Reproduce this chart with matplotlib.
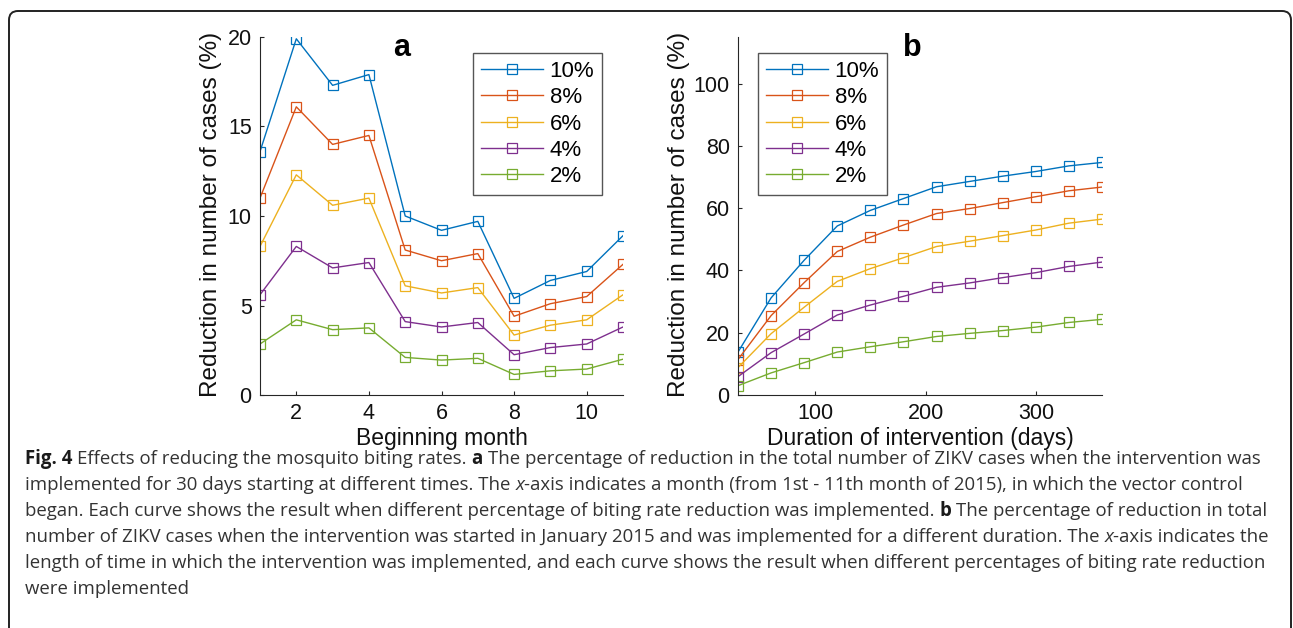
import matplotlib
matplotlib.use('Agg')
import matplotlib.pyplot as plt
from matplotlib.patches import FancyBboxPatch
from matplotlib.transforms import IdentityTransform

plt.rcParams['font.family'] = ['Liberation Sans', 'DejaVu Sans']

# data
months = [1, 2, 3, 4, 5, 6, 7, 8, 9, 10, 11]
days = [30, 60, 90, 120, 150, 180, 210, 240, 270, 300, 330, 360]
labels = ['10%', '8%', '6%', '4%', '2%']
colors = ['#0072BD', '#D95319', '#EDB120', '#7E2F8E', '#77AC30']

month_10 = [13.6, 19.9, 17.3, 17.9, 10.0, 9.2, 9.7, 5.4, 6.4, 6.9, 8.9]
month_8 = [11.0, 16.1, 14.0, 14.5, 8.1, 7.5, 7.9, 4.4, 5.1, 5.5, 7.3]
month_6 = [8.3, 12.3, 10.6, 11.0, 6.1, 5.7, 6.0, 3.35, 3.9, 4.2, 5.6]
month_4 = [5.6, 8.3, 7.1, 7.4, 4.1, 3.8, 4.05, 2.25, 2.65, 2.85, 3.8]
month_2 = [2.85, 4.2, 3.65, 3.75, 2.1, 1.95, 2.05, 1.15, 1.35, 1.45, 2.0]

dur_10 = [13.8, 31.2, 43.3, 54.3, 59.3, 63.1, 66.9, 68.6, 70.3, 71.8, 73.6, 74.7]
dur_8 = [11.4, 25.5, 36.1, 46.1, 50.7, 54.6, 58.3, 59.9, 61.8, 63.7, 65.6, 66.8]
dur_6 = [8.8, 19.7, 28.2, 36.5, 40.6, 44.1, 47.7, 49.4, 51.2, 53.0, 55.2, 56.5]
dur_4 = [5.9, 13.6, 19.6, 25.7, 28.9, 31.7, 34.6, 36.0, 37.7, 39.3, 41.3, 42.7]
dur_2 = [3.0, 7.1, 10.4, 13.8, 15.5, 17.1, 18.8, 19.8, 20.7, 21.8, 23.3, 24.3]

month_series = [month_10, month_8, month_6, month_4, month_2]
dur_series = [dur_10, dur_8, dur_6, dur_4, dur_2]

W, H = 1293, 628
fig = plt.figure(figsize=(W / 100, H / 100), dpi=100)

axc = '#262626'


def style_axes(ax):
    for s in ['top', 'right']:
        ax.spines[s].set_visible(False)
    for s in ['left', 'bottom']:
        ax.spines[s].set_color(axc)
        ax.spines[s].set_linewidth(0.8)
    ax.tick_params(direction='in', length=3, width=0.8, colors=axc,
                   labelsize=15.5, pad=6)
    for lab in ax.get_xticklabels() + ax.get_yticklabels():
        lab.set_color('#111111')


def panel(rect, x, series, xlim, ylim, xticks, yticks, xlabel, letter,
          letter_x, ylab_x, leg_x):
    ax = fig.add_axes(rect)
    for ys, lab, c in zip(series, labels, colors):
        ax.plot(x, ys, color=c, lw=1.0, marker='s', ms=7.5, mfc='none',
                mec=c, mew=0.9, label=lab)
    ax.set_xlim(*xlim)
    ax.set_ylim(*ylim)
    ax.set_xticks(xticks)
    ax.set_yticks(yticks)
    style_axes(ax)
    ax.set_xlabel(xlabel, fontsize=16.5, color='#111111')
    ax.set_ylabel('Reduction in number of cases (%)', fontsize=17.5,
                  color='#111111')
    ax.xaxis.set_label_coords(0.5, -0.088)
    ax.yaxis.set_label_coords(ylab_x, 0.505)
    ax.text(letter_x, 0.968, letter, transform=ax.transAxes, fontsize=22,
            fontweight='bold', ha='center', va='center')
    leg = ax.legend(loc='upper left', bbox_to_anchor=(leg_x, 0.955),
                    fontsize=16, numpoints=1, handlelength=2.8,
                    handletextpad=0.3, labelspacing=0.24, borderpad=0.35,
                    borderaxespad=0, fancybox=False, framealpha=1)
    leg.get_frame().set_edgecolor('#555555')
    leg.get_frame().set_linewidth(1.0)
    return ax


axa = panel([260 / W, 1 - 395 / H, 363 / W, 358 / H], months, month_series,
            (1, 11), (0, 20), [2, 4, 6, 8, 10], [0, 5, 10, 15, 20],
            'Beginning month', 'a', 0.391, -0.105, 0.587)
axb = panel([738 / W, 1 - 395 / H, 364 / W, 358 / H], days, dur_series,
            (30, 360), (0, 115), [100, 200, 300], [0, 20, 40, 60, 80, 100],
            'Duration of intervention (days)', 'b', 0.478, -0.131, 0.055)

# outer rounded frame
frame = FancyBboxPatch((9, -20), 1282, 637,
                       boxstyle='round,pad=0,rounding_size=9',
                       transform=IdentityTransform(), fill=False,
                       edgecolor='#222222', linewidth=1.4)
fig.add_artist(frame)

# caption with bold / italic runs
caption = [
    [('Fig. 4', 'b'), (' Effects of reducing the mosquito biting rates. ', 'n'),
     ('a', 'b'), (' The percentage of reduction in the total number of ZIKV '
                  'cases when the intervention was', 'n')],
    [('implemented for 30 days starting at different times. The ', 'n'),
     ('x', 'i'), ('-axis indicates a month (from 1st - 11th month of 2015), '
                  'in which the vector control', 'n')],
    [('began. Each curve shows the result when different percentage of biting '
      'rate reduction was implemented. ', 'n'), ('b', 'b'),
     (' The percentage of reduction in total', 'n')],
    [('number of ZIKV cases when the intervention was started in January 2015 '
      'and was implemented for a different duration. The ', 'n'), ('x', 'i'),
     ('-axis indicates the', 'n')],
    [('length of time in which the intervention was implemented, and each '
      'curve shows the result when different percentages of biting rate '
      'reduction', 'n')],
    [('were implemented', 'n')],
]

cap_font = ['Open Sans', 'DejaVu Sans']
cap_size = 13.4
renderer = fig.canvas.get_renderer()


def run_width(s, style):
    kw = dict(fontsize=cap_size, family=cap_font)
    if style == 'b':
        kw['fontweight'] = 'bold'
    if style == 'i':
        kw['fontstyle'] = 'italic'
    t1 = fig.text(0, 0, '|' + s + '|', **kw)
    t2 = fig.text(0, 0, '||', **kw)
    w = t1.get_window_extent(renderer).width - t2.get_window_extent(renderer).width
    t1.remove()
    t2.remove()
    return w


x0 = 25
base = 464
for i, line in enumerate(caption):
    x = x0
    y = base + 26 * i
    for s, style in line:
        kw = dict(fontsize=cap_size, family=cap_font, color='#333333',
                  va='baseline', ha='left')
        if style == 'b':
            kw['fontweight'] = 'bold'
            kw['color'] = '#1a1a1a'
        if style == 'i':
            kw['fontstyle'] = 'italic'
        lead = len(s) - len(s.lstrip(' '))
        xs = x + (run_width(' ' * lead, 'n') if lead else 0)
        fig.text(xs / W, 1 - y / H, s.strip(' '), **kw)
        x += run_width(s, style)

fig.savefig('out.png', dpi=100)
